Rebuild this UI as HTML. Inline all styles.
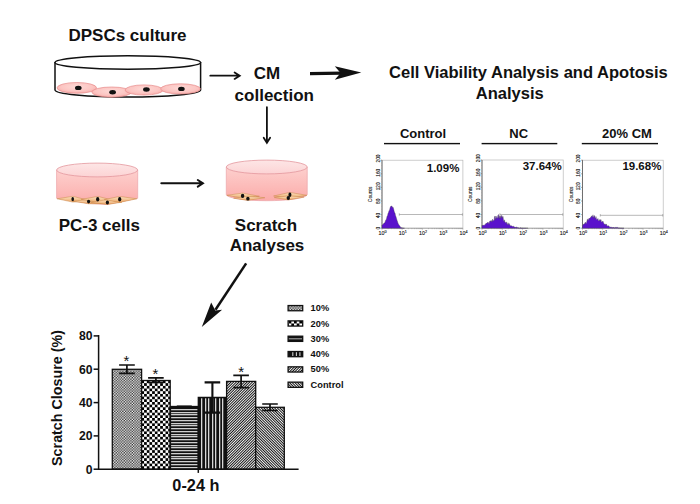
<!DOCTYPE html>
<html><head><meta charset="utf-8">
<style>
html,body{margin:0;padding:0;background:#fff;}
body{width:700px;height:504px;overflow:hidden;font-family:"Liberation Sans",sans-serif;}
svg{display:block;}
text{font-family:"Liberation Sans",sans-serif;font-weight:bold;fill:#111;}
</style></head><body>
<svg width="700" height="504" viewBox="0 0 700 504">
<defs>
<linearGradient id="med" x1="0" y1="0" x2="0" y2="1"><stop offset="0" stop-color="#fdd0ce"/><stop offset="0.55" stop-color="#fcbcba"/><stop offset="1" stop-color="#fbaba9"/></linearGradient>
<linearGradient id="medtop" x1="0" y1="0" x2="0" y2="1"><stop offset="0" stop-color="#fde6e6"/><stop offset="1" stop-color="#fcd3d4"/></linearGradient>
<radialGradient id="cell" cx="0.5" cy="0.4" r="0.62"><stop offset="0" stop-color="#fdd9d6"/><stop offset="0.65" stop-color="#fcc5c2"/><stop offset="1" stop-color="#f7a9a6"/></radialGradient>
<linearGradient id="pc" x1="0" y1="0" x2="0" y2="1"><stop offset="0" stop-color="#fde3c4"/><stop offset="1" stop-color="#eba767"/></linearGradient>
<pattern id="p10" width="2.68" height="2.68" patternUnits="userSpaceOnUse" x="114.18" y="371.75"><rect width="2.68" height="2.68" fill="#262626"/><rect width="1.4" height="1.4" fill="#fafafa"/><rect x="1.34" y="1.34" width="1.4" height="1.4" fill="#fafafa"/></pattern>
<pattern id="p20" width="5.36" height="5.36" patternUnits="userSpaceOnUse" x="144.1" y="388.54"><rect width="5.36" height="5.36" fill="#fff"/><rect width="2.68" height="2.68" fill="#000"/><rect x="2.68" y="2.68" width="2.68" height="2.68" fill="#000"/></pattern>
<pattern id="p30" width="4" height="2.74" patternUnits="userSpaceOnUse" y="408.6"><rect width="4" height="2.74" fill="#111"/><rect y="0" width="4" height="1.15" fill="#c4c4c4"/></pattern>
<pattern id="p40" width="3.54" height="4" patternUnits="userSpaceOnUse" x="201.3"><rect width="3.54" height="4" fill="#111"/><rect x="0" width="1.3" height="4" fill="#dcdcdc"/></pattern>
<pattern id="p50" width="1.895" height="1.895" patternUnits="userSpaceOnUse" patternTransform="rotate(-45)"><rect width="1.895" height="1.895" fill="#111"/><rect width="1.895" height="0.95" fill="#f4f4f4"/></pattern>
<pattern id="p60" width="1.895" height="1.895" patternUnits="userSpaceOnUse" patternTransform="rotate(45)"><rect width="1.895" height="1.895" fill="#111"/><rect width="1.895" height="0.95" fill="#f4f4f4"/></pattern>
<pattern id="p20L" width="5.36" height="5.36" patternUnits="userSpaceOnUse" x="288.66" y="320.8"><rect width="5.36" height="5.36" fill="#000"/><rect x="2.68" width="2.68" height="2.68" fill="#fff"/><rect y="2.68" width="2.68" height="2.68" fill="#fff"/></pattern>
</defs>
<rect width="700" height="504" fill="#fff"/>

<!-- ===== texts ===== -->
<text x="127.5" y="41.1" font-size="17" text-anchor="middle">DPSCs culture</text>
<text x="267" y="78.7" font-size="17" text-anchor="middle">CM</text>
<text x="274.3" y="100.7" font-size="17" text-anchor="middle">collection</text>
<text x="528.4" y="77.5" font-size="16.55" text-anchor="middle">Cell Viability Analysis and Apotosis</text>
<text x="509.8" y="98.5" font-size="16.55" text-anchor="middle">Analysis</text>
<text x="99.3" y="231" font-size="17" text-anchor="middle">PC-3 cells</text>
<text x="266" y="231" font-size="17" text-anchor="middle">Scratch</text>
<text x="267" y="251" font-size="17" text-anchor="middle">Analyses</text>

<!-- ===== DPSC dish ===== -->
<g id="dish1">
<path d="M55,62 L55,90 A72.8,7 0 0 0 200.6,90 L200.6,62" fill="#fff" stroke="#111" stroke-width="1.5"/>
<ellipse cx="76.8" cy="87.9" rx="19.8" ry="5.4" fill="url(#cell)" stroke="#e78d8d" stroke-width="0.7"/>
<ellipse cx="111.6" cy="92.1" rx="19.8" ry="5.1" fill="url(#cell)" stroke="#e78d8d" stroke-width="0.7"/>
<ellipse cx="144" cy="90" rx="19" ry="5.1" fill="url(#cell)" stroke="#e78d8d" stroke-width="0.7"/>
<ellipse cx="180.5" cy="88.9" rx="19.9" ry="5.1" fill="url(#cell)" stroke="#e78d8d" stroke-width="0.7"/>
<ellipse cx="78.3" cy="87.9" rx="3.3" ry="2.2" fill="#111"/>
<ellipse cx="112.6" cy="92.2" rx="3.3" ry="2.2" fill="#111"/>
<ellipse cx="146.4" cy="89.5" rx="3.3" ry="2.2" fill="#111"/>
<ellipse cx="181.4" cy="88.9" rx="3.3" ry="2.2" fill="#111"/>
<ellipse cx="127.8" cy="62.5" rx="72.8" ry="6.7" fill="#fff" stroke="#111" stroke-width="1.5"/>
</g>

<!-- ===== arrows ===== -->
<g stroke="#111" fill="none" stroke-width="1.8" stroke-linecap="round" stroke-linejoin="miter">
<path d="M210.3,75.7 H239.4 M234.6,72.5 L239.7,75.7 L234.6,78.9"/>
<path d="M266.9,107.2 V142.6 M263.7,137.8 L266.9,142.9 L270.1,137.8"/>
<path d="M161.3,183.3 H202.6 M197.8,180 L202.9,183.3 L197.8,186.6" stroke-width="2"/>
</g>
<g fill="#111" stroke="none">
<path d="M310,72.0 L342,71.5 L342,74.7 L310,75.2 Z"/>
<path d="M361.3,72.4 L334.8,66.2 L340.6,73.1 L334.8,79.8 Z"/>
<path d="M245.100,262.700 L247.200,264.100 L216.500,310.500 L214.400,309.100 Z"/>
<path d="M201.800,326.900 L211.200,302.500 L215.300,310.400 L222.100,309.800 Z"/>
</g>

<!-- ===== PC-3 dish ===== -->
<g id="dish2">
<path d="M56.6,170 L56.6,198.3 L89,203.4 L107,204.5 L137.7,198.3 L137.7,170 Z" fill="url(#med)" stroke="#eda9ad" stroke-width="0.8"/>
<path d="M57.2,198.4 L72.8,197 L82,199.2 L97.8,197 L108.5,199.4 L119.7,197 L137,198.4 L107,204.3 L89,203.2 Z" fill="#f3c08c"/>
<path d="M57.1,198.8 L72.8,196.29999999999998 L90.7,200.8 L72.8,202.1 Z" fill="url(#pc)" stroke="#c5803f" stroke-width="0.45"/>
<path d="M73,201.2 L88.7,199.4 L107,203.6 L88.7,203.79999999999998 Z" fill="url(#pc)" stroke="#c5803f" stroke-width="0.45"/>
<path d="M81.2,199.4 L97.8,196.4 L113.8,200.4 L97.8,202.4 Z" fill="url(#pc)" stroke="#c5803f" stroke-width="0.45"/>
<path d="M90.7,202.3 L107.5,199.6 L122,202.2 L107.5,204.4 Z" fill="url(#pc)" stroke="#c5803f" stroke-width="0.45"/>
<path d="M104.3,199.6 L119.7,196.4 L136.8,198.8 L119.7,202.4 Z" fill="url(#pc)" stroke="#c5803f" stroke-width="0.45"/>
<ellipse cx="72.7" cy="199.1" rx="1.3" ry="2.2" fill="#111"/>
<ellipse cx="88.6" cy="201.6" rx="1.6" ry="1.8" fill="#111"/>
<ellipse cx="97.7" cy="199.3" rx="1.6" ry="2.3" fill="#111"/>
<ellipse cx="107.4" cy="202.5" rx="1.6" ry="1.9" fill="#111"/>
<ellipse cx="119.7" cy="199.3" rx="1.6" ry="2.3" fill="#111"/>
<ellipse cx="97.15" cy="170" rx="40.5" ry="6.9" fill="url(#medtop)" stroke="#e3979d" stroke-width="0.8"/>
</g>

<!-- ===== Scratch dish ===== -->
<g id="dish3">
<path d="M226.3,167 L226.3,194.5 A40.45,6.2 0 0 0 307.2,194.5 L307.2,167 Z" fill="url(#med)" stroke="#eda9ad" stroke-width="0.8"/>
<path d="M226.8,195.3 L242.7,193.1 L259.4,196.3 L242.7,198.1 Z" fill="url(#pc)" stroke="#c5803f" stroke-width="0.45"/>
<path d="M233.6,198.2 L247.8,196.4 L264.8,197.7 L247.8,200.4 Z" fill="url(#pc)" stroke="#c5803f" stroke-width="0.45"/>
<path d="M273.6,196 L289.9,192.39999999999998 L306.8,195.3 L289.9,198.0 Z" fill="url(#pc)" stroke="#c5803f" stroke-width="0.45"/>
<path d="M274.3,197.6 L288.3,195.9 L304.1,197 L288.3,199.9 Z" fill="url(#pc)" stroke="#c5803f" stroke-width="0.45"/>
<ellipse cx="242.6" cy="195.9" rx="1.7" ry="2.1" fill="#111"/>
<ellipse cx="247.9" cy="198.7" rx="1.7" ry="1.9" fill="#111"/>
<ellipse cx="289.9" cy="194.7" rx="1.5" ry="2.2" fill="#111"/>
<ellipse cx="288.3" cy="198.0" rx="1.7" ry="2" fill="#111"/>
<ellipse cx="266.75" cy="167" rx="40.45" ry="6.9" fill="url(#medtop)" stroke="#e3979d" stroke-width="0.8"/>
</g>

<!-- ===== flow plots ===== -->
<g id="flow">
<text x="423" y="138.2" font-size="13" text-anchor="middle">Control</text>
<rect x="384" y="142.9" width="76" height="1.4" fill="#111"/>
<rect x="382.0" y="160.2" width="80.89999999999998" height="68.0" fill="#fff" stroke="#b8b8b8" stroke-width="0.7"/>
<path d="M382.0,228.2 H462.9" fill="none" stroke="#999" stroke-width="0.7"/>
<path d="M382.0,160.2 V228.2" fill="none" stroke="#555" stroke-width="0.8"/>
<path d="M380.5,228.2 H382.0" stroke="#666" stroke-width="0.5"/>
<path d="M380.5,214.6 H382.0" stroke="#666" stroke-width="0.5"/>
<path d="M380.5,201.0 H382.0" stroke="#666" stroke-width="0.5"/>
<path d="M380.5,187.4 H382.0" stroke="#666" stroke-width="0.5"/>
<path d="M380.5,173.8 H382.0" stroke="#666" stroke-width="0.5"/>
<path d="M380.5,160.2 H382.0" stroke="#666" stroke-width="0.5"/>
<path d="M381.2,228.2 H382.0" stroke="#888" stroke-width="0.3"/>
<path d="M381.2,225.5 H382.0" stroke="#888" stroke-width="0.3"/>
<path d="M381.2,222.8 H382.0" stroke="#888" stroke-width="0.3"/>
<path d="M381.2,220.0 H382.0" stroke="#888" stroke-width="0.3"/>
<path d="M381.2,217.3 H382.0" stroke="#888" stroke-width="0.3"/>
<path d="M381.2,214.6 H382.0" stroke="#888" stroke-width="0.3"/>
<path d="M381.2,211.9 H382.0" stroke="#888" stroke-width="0.3"/>
<path d="M381.2,209.2 H382.0" stroke="#888" stroke-width="0.3"/>
<path d="M381.2,206.4 H382.0" stroke="#888" stroke-width="0.3"/>
<path d="M381.2,203.7 H382.0" stroke="#888" stroke-width="0.3"/>
<path d="M381.2,201.0 H382.0" stroke="#888" stroke-width="0.3"/>
<path d="M381.2,198.3 H382.0" stroke="#888" stroke-width="0.3"/>
<path d="M381.2,195.6 H382.0" stroke="#888" stroke-width="0.3"/>
<path d="M381.2,192.8 H382.0" stroke="#888" stroke-width="0.3"/>
<path d="M381.2,190.1 H382.0" stroke="#888" stroke-width="0.3"/>
<path d="M381.2,187.4 H382.0" stroke="#888" stroke-width="0.3"/>
<path d="M381.2,184.7 H382.0" stroke="#888" stroke-width="0.3"/>
<path d="M381.2,182.0 H382.0" stroke="#888" stroke-width="0.3"/>
<path d="M381.2,179.2 H382.0" stroke="#888" stroke-width="0.3"/>
<path d="M381.2,176.5 H382.0" stroke="#888" stroke-width="0.3"/>
<path d="M381.2,173.8 H382.0" stroke="#888" stroke-width="0.3"/>
<path d="M381.2,171.1 H382.0" stroke="#888" stroke-width="0.3"/>
<path d="M381.2,168.4 H382.0" stroke="#888" stroke-width="0.3"/>
<path d="M381.2,165.6 H382.0" stroke="#888" stroke-width="0.3"/>
<path d="M381.2,162.9 H382.0" stroke="#888" stroke-width="0.3"/>
<path d="M381.2,160.2 H382.0" stroke="#888" stroke-width="0.3"/>
<path d="M382.0,228.2 v2" stroke="#777" stroke-width="0.35"/>
<path d="M388.1,228.2 v1" stroke="#777" stroke-width="0.35"/>
<path d="M391.6,228.2 v1" stroke="#777" stroke-width="0.35"/>
<path d="M394.2,228.2 v1" stroke="#777" stroke-width="0.35"/>
<path d="M396.1,228.2 v1" stroke="#777" stroke-width="0.35"/>
<path d="M397.7,228.2 v1" stroke="#777" stroke-width="0.35"/>
<path d="M399.1,228.2 v1" stroke="#777" stroke-width="0.35"/>
<path d="M400.3,228.2 v1" stroke="#777" stroke-width="0.35"/>
<path d="M401.3,228.2 v1" stroke="#777" stroke-width="0.35"/>
<path d="M402.2,228.2 v2" stroke="#777" stroke-width="0.35"/>
<path d="M408.3,228.2 v1" stroke="#777" stroke-width="0.35"/>
<path d="M411.9,228.2 v1" stroke="#777" stroke-width="0.35"/>
<path d="M414.4,228.2 v1" stroke="#777" stroke-width="0.35"/>
<path d="M416.4,228.2 v1" stroke="#777" stroke-width="0.35"/>
<path d="M418.0,228.2 v1" stroke="#777" stroke-width="0.35"/>
<path d="M419.3,228.2 v1" stroke="#777" stroke-width="0.35"/>
<path d="M420.5,228.2 v1" stroke="#777" stroke-width="0.35"/>
<path d="M421.5,228.2 v1" stroke="#777" stroke-width="0.35"/>
<path d="M422.4,228.2 v2" stroke="#777" stroke-width="0.35"/>
<path d="M428.5,228.2 v1" stroke="#777" stroke-width="0.35"/>
<path d="M432.1,228.2 v1" stroke="#777" stroke-width="0.35"/>
<path d="M434.6,228.2 v1" stroke="#777" stroke-width="0.35"/>
<path d="M436.6,228.2 v1" stroke="#777" stroke-width="0.35"/>
<path d="M438.2,228.2 v1" stroke="#777" stroke-width="0.35"/>
<path d="M439.5,228.2 v1" stroke="#777" stroke-width="0.35"/>
<path d="M440.7,228.2 v1" stroke="#777" stroke-width="0.35"/>
<path d="M441.7,228.2 v1" stroke="#777" stroke-width="0.35"/>
<path d="M442.7,228.2 v2" stroke="#777" stroke-width="0.35"/>
<path d="M448.8,228.2 v1" stroke="#777" stroke-width="0.35"/>
<path d="M452.3,228.2 v1" stroke="#777" stroke-width="0.35"/>
<path d="M454.9,228.2 v1" stroke="#777" stroke-width="0.35"/>
<path d="M456.8,228.2 v1" stroke="#777" stroke-width="0.35"/>
<path d="M458.4,228.2 v1" stroke="#777" stroke-width="0.35"/>
<path d="M459.8,228.2 v1" stroke="#777" stroke-width="0.35"/>
<path d="M460.9,228.2 v1" stroke="#777" stroke-width="0.35"/>
<path d="M462.0,228.2 v1" stroke="#777" stroke-width="0.35"/>
<path d="M462.9,228.2 v2" stroke="#777" stroke-width="0.35"/>
<polygon points="382.0,228.2 382.0,225.3 382.5,224.7 383.0,224.4 383.5,223.7 384.0,223.1 384.5,223.0 385.0,222.3 385.5,220.4 386.0,220.0 386.5,218.8 387.0,216.4 387.5,215.7 388.0,213.5 388.5,212.5 389.0,210.7 389.5,210.2 390.0,208.1 390.5,206.6 391.0,206.6 391.5,205.9 392.0,206.1 392.5,207.7 393.0,207.1 393.5,208.6 394.0,210.6 394.5,212.6 395.0,212.9 395.5,215.4 396.0,216.8 396.5,218.4 397.0,220.2 397.5,221.5 398.0,223.3 398.5,224.0 399.0,225.2 399.5,225.6 400.0,226.3 400.5,227.2 401.0,227.5 401.5,227.7 402.0,227.7 402.5,227.9 403.0,228.0 403.5,228.1 404.0,228.1 404.5,228.2 404.5,228.2" fill="#5a12cc" stroke="#444" stroke-width="0.35"/>
<path d="M399.3,214.5 H462.4 M399.3,213.3 v2.4 M462.4,213.3 v2.4" stroke="#888" stroke-width="0.6" fill="none"/>
<text x="459.4" y="171.6" font-size="11.5" text-anchor="end">1.09%</text>
<text x="382.6" y="234.6" font-size="5.3" text-anchor="middle" fill="#1a1a1a" stroke="#1a1a1a" stroke-width="0.12" style="font-weight:normal">10<tspan dy="-2.0" font-size="3.7">0</tspan></text>
<text x="402.8" y="234.6" font-size="5.3" text-anchor="middle" fill="#1a1a1a" stroke="#1a1a1a" stroke-width="0.12" style="font-weight:normal">10<tspan dy="-2.0" font-size="3.7">1</tspan></text>
<text x="423.1" y="234.6" font-size="5.3" text-anchor="middle" fill="#1a1a1a" stroke="#1a1a1a" stroke-width="0.12" style="font-weight:normal">10<tspan dy="-2.0" font-size="3.7">2</tspan></text>
<text x="443.3" y="234.6" font-size="5.3" text-anchor="middle" fill="#1a1a1a" stroke="#1a1a1a" stroke-width="0.12" style="font-weight:normal">10<tspan dy="-2.0" font-size="3.7">3</tspan></text>
<text x="463.5" y="234.6" font-size="5.3" text-anchor="middle" fill="#1a1a1a" stroke="#1a1a1a" stroke-width="0.12" style="font-weight:normal">10<tspan dy="-2.0" font-size="3.7">4</tspan></text>
<text transform="translate(379.9,228.2) rotate(-90)" font-size="4.7" text-anchor="middle" fill="#1a1a1a" stroke="#1a1a1a" stroke-width="0.12" style="font-weight:normal">0</text>
<text transform="translate(379.9,215.5) rotate(-90)" font-size="4.7" text-anchor="middle" fill="#1a1a1a" stroke="#1a1a1a" stroke-width="0.12" style="font-weight:normal">40</text>
<text transform="translate(379.9,201.3) rotate(-90)" font-size="4.7" text-anchor="middle" fill="#1a1a1a" stroke="#1a1a1a" stroke-width="0.12" style="font-weight:normal">80</text>
<text transform="translate(379.9,186.4) rotate(-90)" font-size="4.7" text-anchor="middle" fill="#1a1a1a" stroke="#1a1a1a" stroke-width="0.12" style="font-weight:normal">120</text>
<text transform="translate(379.9,172.8) rotate(-90)" font-size="4.7" text-anchor="middle" fill="#1a1a1a" stroke="#1a1a1a" stroke-width="0.12" style="font-weight:normal">160</text>
<text transform="translate(379.9,158.5) rotate(-90)" font-size="4.7" text-anchor="middle" fill="#1a1a1a" stroke="#1a1a1a" stroke-width="0.12" style="font-weight:normal">200</text>
<text transform="translate(372.2,194.4) rotate(-90)" font-size="4.9" text-anchor="middle" fill="#1a1a1a" stroke="#1a1a1a" stroke-width="0.12" style="font-weight:normal">Counts</text>
<text x="518.7" y="138.2" font-size="13" text-anchor="middle">NC</text>
<rect x="481.6" y="142.9" width="75.69999999999993" height="1.4" fill="#111"/>
<rect x="482.0" y="160.0" width="81.20000000000005" height="68.19999999999999" fill="#fff" stroke="#b8b8b8" stroke-width="0.7"/>
<path d="M482.0,228.2 H563.2" fill="none" stroke="#999" stroke-width="0.7"/>
<path d="M482.0,160.0 V228.2" fill="none" stroke="#555" stroke-width="0.8"/>
<path d="M480.5,228.2 H482.0" stroke="#666" stroke-width="0.5"/>
<path d="M480.5,214.6 H482.0" stroke="#666" stroke-width="0.5"/>
<path d="M480.5,200.9 H482.0" stroke="#666" stroke-width="0.5"/>
<path d="M480.5,187.3 H482.0" stroke="#666" stroke-width="0.5"/>
<path d="M480.5,173.6 H482.0" stroke="#666" stroke-width="0.5"/>
<path d="M480.5,160.0 H482.0" stroke="#666" stroke-width="0.5"/>
<path d="M481.2,228.2 H482.0" stroke="#888" stroke-width="0.3"/>
<path d="M481.2,225.5 H482.0" stroke="#888" stroke-width="0.3"/>
<path d="M481.2,222.7 H482.0" stroke="#888" stroke-width="0.3"/>
<path d="M481.2,220.0 H482.0" stroke="#888" stroke-width="0.3"/>
<path d="M481.2,217.3 H482.0" stroke="#888" stroke-width="0.3"/>
<path d="M481.2,214.6 H482.0" stroke="#888" stroke-width="0.3"/>
<path d="M481.2,211.8 H482.0" stroke="#888" stroke-width="0.3"/>
<path d="M481.2,209.1 H482.0" stroke="#888" stroke-width="0.3"/>
<path d="M481.2,206.4 H482.0" stroke="#888" stroke-width="0.3"/>
<path d="M481.2,203.6 H482.0" stroke="#888" stroke-width="0.3"/>
<path d="M481.2,200.9 H482.0" stroke="#888" stroke-width="0.3"/>
<path d="M481.2,198.2 H482.0" stroke="#888" stroke-width="0.3"/>
<path d="M481.2,195.5 H482.0" stroke="#888" stroke-width="0.3"/>
<path d="M481.2,192.7 H482.0" stroke="#888" stroke-width="0.3"/>
<path d="M481.2,190.0 H482.0" stroke="#888" stroke-width="0.3"/>
<path d="M481.2,187.3 H482.0" stroke="#888" stroke-width="0.3"/>
<path d="M481.2,184.6 H482.0" stroke="#888" stroke-width="0.3"/>
<path d="M481.2,181.8 H482.0" stroke="#888" stroke-width="0.3"/>
<path d="M481.2,179.1 H482.0" stroke="#888" stroke-width="0.3"/>
<path d="M481.2,176.4 H482.0" stroke="#888" stroke-width="0.3"/>
<path d="M481.2,173.6 H482.0" stroke="#888" stroke-width="0.3"/>
<path d="M481.2,170.9 H482.0" stroke="#888" stroke-width="0.3"/>
<path d="M481.2,168.2 H482.0" stroke="#888" stroke-width="0.3"/>
<path d="M481.2,165.5 H482.0" stroke="#888" stroke-width="0.3"/>
<path d="M481.2,162.7 H482.0" stroke="#888" stroke-width="0.3"/>
<path d="M481.2,160.0 H482.0" stroke="#888" stroke-width="0.3"/>
<path d="M482.0,228.2 v2" stroke="#777" stroke-width="0.35"/>
<path d="M488.1,228.2 v1" stroke="#777" stroke-width="0.35"/>
<path d="M491.7,228.2 v1" stroke="#777" stroke-width="0.35"/>
<path d="M494.2,228.2 v1" stroke="#777" stroke-width="0.35"/>
<path d="M496.2,228.2 v1" stroke="#777" stroke-width="0.35"/>
<path d="M497.8,228.2 v1" stroke="#777" stroke-width="0.35"/>
<path d="M499.2,228.2 v1" stroke="#777" stroke-width="0.35"/>
<path d="M500.3,228.2 v1" stroke="#777" stroke-width="0.35"/>
<path d="M501.4,228.2 v1" stroke="#777" stroke-width="0.35"/>
<path d="M502.3,228.2 v2" stroke="#777" stroke-width="0.35"/>
<path d="M508.4,228.2 v1" stroke="#777" stroke-width="0.35"/>
<path d="M512.0,228.2 v1" stroke="#777" stroke-width="0.35"/>
<path d="M514.5,228.2 v1" stroke="#777" stroke-width="0.35"/>
<path d="M516.5,228.2 v1" stroke="#777" stroke-width="0.35"/>
<path d="M518.1,228.2 v1" stroke="#777" stroke-width="0.35"/>
<path d="M519.5,228.2 v1" stroke="#777" stroke-width="0.35"/>
<path d="M520.6,228.2 v1" stroke="#777" stroke-width="0.35"/>
<path d="M521.7,228.2 v1" stroke="#777" stroke-width="0.35"/>
<path d="M522.6,228.2 v2" stroke="#777" stroke-width="0.35"/>
<path d="M528.7,228.2 v1" stroke="#777" stroke-width="0.35"/>
<path d="M532.3,228.2 v1" stroke="#777" stroke-width="0.35"/>
<path d="M534.8,228.2 v1" stroke="#777" stroke-width="0.35"/>
<path d="M536.8,228.2 v1" stroke="#777" stroke-width="0.35"/>
<path d="M538.4,228.2 v1" stroke="#777" stroke-width="0.35"/>
<path d="M539.8,228.2 v1" stroke="#777" stroke-width="0.35"/>
<path d="M540.9,228.2 v1" stroke="#777" stroke-width="0.35"/>
<path d="M542.0,228.2 v1" stroke="#777" stroke-width="0.35"/>
<path d="M542.9,228.2 v2" stroke="#777" stroke-width="0.35"/>
<path d="M549.0,228.2 v1" stroke="#777" stroke-width="0.35"/>
<path d="M552.6,228.2 v1" stroke="#777" stroke-width="0.35"/>
<path d="M555.1,228.2 v1" stroke="#777" stroke-width="0.35"/>
<path d="M557.1,228.2 v1" stroke="#777" stroke-width="0.35"/>
<path d="M558.7,228.2 v1" stroke="#777" stroke-width="0.35"/>
<path d="M560.1,228.2 v1" stroke="#777" stroke-width="0.35"/>
<path d="M561.2,228.2 v1" stroke="#777" stroke-width="0.35"/>
<path d="M562.3,228.2 v1" stroke="#777" stroke-width="0.35"/>
<path d="M563.2,228.2 v2" stroke="#777" stroke-width="0.35"/>
<polygon points="482.0,228.2 482.0,225.7 482.5,225.1 483.0,225.7 483.5,225.1 484.0,225.2 484.5,225.2 485.0,224.4 485.5,224.3 486.0,223.2 486.5,223.6 487.0,222.7 487.5,222.7 488.0,222.1 488.5,222.8 489.0,224.1 489.5,221.6 490.0,220.9 490.5,220.7 491.0,221.5 491.5,220.5 492.0,222.0 492.5,219.2 493.0,219.7 493.5,220.4 494.0,220.9 494.5,217.1 495.0,216.0 495.5,219.7 496.0,216.0 496.5,217.5 497.0,218.5 497.5,217.6 498.0,215.1 498.5,214.5 499.0,218.6 499.5,215.8 500.0,218.7 500.5,215.7 501.0,217.8 501.5,215.6 502.0,215.5 502.5,218.1 503.0,216.4 503.5,219.9 504.0,221.4 504.5,219.8 505.0,222.6 505.5,222.4 506.0,222.2 506.5,222.0 507.0,224.0 507.5,224.8 508.0,222.7 508.5,224.7 509.0,223.4 509.5,224.0 510.0,225.6 510.5,225.7 511.0,225.8 511.5,225.8 512.0,226.1 512.5,226.4 513.0,226.4 513.5,226.1 514.0,226.9 514.5,227.2 515.0,226.8 515.5,227.6 516.0,227.6 516.5,226.8 517.0,227.5 517.5,227.5 518.0,228.2 518.5,227.8 519.0,227.7 519.5,228.2 520.0,227.7 520.5,227.8 521.0,227.9 521.5,228.0 522.0,228.0 522.5,228.0 523.0,228.0 523.5,228.1 524.0,228.1 524.5,228.1 525.0,228.1 525.5,228.1 526.0,228.1 526.5,228.2 527.0,228.2 527.5,228.2 528.0,228.2 528.0,228.2" fill="#5a12cc" stroke="#444" stroke-width="0.35"/>
<path d="M499.9,214.5 H562.7 M499.9,213.3 v2.4 M562.7,213.3 v2.4" stroke="#888" stroke-width="0.6" fill="none"/>
<text x="561.7" y="170.4" font-size="11.5" text-anchor="end">37.64%</text>
<text x="482.6" y="234.6" font-size="5.3" text-anchor="middle" fill="#1a1a1a" stroke="#1a1a1a" stroke-width="0.12" style="font-weight:normal">10<tspan dy="-2.0" font-size="3.7">0</tspan></text>
<text x="502.9" y="234.6" font-size="5.3" text-anchor="middle" fill="#1a1a1a" stroke="#1a1a1a" stroke-width="0.12" style="font-weight:normal">10<tspan dy="-2.0" font-size="3.7">1</tspan></text>
<text x="523.2" y="234.6" font-size="5.3" text-anchor="middle" fill="#1a1a1a" stroke="#1a1a1a" stroke-width="0.12" style="font-weight:normal">10<tspan dy="-2.0" font-size="3.7">2</tspan></text>
<text x="543.5" y="234.6" font-size="5.3" text-anchor="middle" fill="#1a1a1a" stroke="#1a1a1a" stroke-width="0.12" style="font-weight:normal">10<tspan dy="-2.0" font-size="3.7">3</tspan></text>
<text x="563.8" y="234.6" font-size="5.3" text-anchor="middle" fill="#1a1a1a" stroke="#1a1a1a" stroke-width="0.12" style="font-weight:normal">10<tspan dy="-2.0" font-size="3.7">4</tspan></text>
<text transform="translate(479.9,228.2) rotate(-90)" font-size="4.7" text-anchor="middle" fill="#1a1a1a" stroke="#1a1a1a" stroke-width="0.12" style="font-weight:normal">0</text>
<text transform="translate(479.9,215.5) rotate(-90)" font-size="4.7" text-anchor="middle" fill="#1a1a1a" stroke="#1a1a1a" stroke-width="0.12" style="font-weight:normal">40</text>
<text transform="translate(479.9,201.2) rotate(-90)" font-size="4.7" text-anchor="middle" fill="#1a1a1a" stroke="#1a1a1a" stroke-width="0.12" style="font-weight:normal">80</text>
<text transform="translate(479.9,186.3) rotate(-90)" font-size="4.7" text-anchor="middle" fill="#1a1a1a" stroke="#1a1a1a" stroke-width="0.12" style="font-weight:normal">120</text>
<text transform="translate(479.9,172.6) rotate(-90)" font-size="4.7" text-anchor="middle" fill="#1a1a1a" stroke="#1a1a1a" stroke-width="0.12" style="font-weight:normal">160</text>
<text transform="translate(479.9,158.3) rotate(-90)" font-size="4.7" text-anchor="middle" fill="#1a1a1a" stroke="#1a1a1a" stroke-width="0.12" style="font-weight:normal">200</text>
<text transform="translate(472.2,194.3) rotate(-90)" font-size="4.9" text-anchor="middle" fill="#1a1a1a" stroke="#1a1a1a" stroke-width="0.12" style="font-weight:normal">Counts</text>
<text x="627" y="138.2" font-size="13" text-anchor="middle">20% CM</text>
<rect x="581.8" y="142.9" width="76.20000000000005" height="1.4" fill="#111"/>
<rect x="582.5" y="160.2" width="80.70000000000005" height="68.0" fill="#fff" stroke="#b8b8b8" stroke-width="0.7"/>
<path d="M582.5,228.2 H663.2" fill="none" stroke="#999" stroke-width="0.7"/>
<path d="M582.5,160.2 V228.2" fill="none" stroke="#555" stroke-width="0.8"/>
<path d="M581.0,228.2 H582.5" stroke="#666" stroke-width="0.5"/>
<path d="M581.0,214.6 H582.5" stroke="#666" stroke-width="0.5"/>
<path d="M581.0,201.0 H582.5" stroke="#666" stroke-width="0.5"/>
<path d="M581.0,187.4 H582.5" stroke="#666" stroke-width="0.5"/>
<path d="M581.0,173.8 H582.5" stroke="#666" stroke-width="0.5"/>
<path d="M581.0,160.2 H582.5" stroke="#666" stroke-width="0.5"/>
<path d="M581.7,228.2 H582.5" stroke="#888" stroke-width="0.3"/>
<path d="M581.7,225.5 H582.5" stroke="#888" stroke-width="0.3"/>
<path d="M581.7,222.8 H582.5" stroke="#888" stroke-width="0.3"/>
<path d="M581.7,220.0 H582.5" stroke="#888" stroke-width="0.3"/>
<path d="M581.7,217.3 H582.5" stroke="#888" stroke-width="0.3"/>
<path d="M581.7,214.6 H582.5" stroke="#888" stroke-width="0.3"/>
<path d="M581.7,211.9 H582.5" stroke="#888" stroke-width="0.3"/>
<path d="M581.7,209.2 H582.5" stroke="#888" stroke-width="0.3"/>
<path d="M581.7,206.4 H582.5" stroke="#888" stroke-width="0.3"/>
<path d="M581.7,203.7 H582.5" stroke="#888" stroke-width="0.3"/>
<path d="M581.7,201.0 H582.5" stroke="#888" stroke-width="0.3"/>
<path d="M581.7,198.3 H582.5" stroke="#888" stroke-width="0.3"/>
<path d="M581.7,195.6 H582.5" stroke="#888" stroke-width="0.3"/>
<path d="M581.7,192.8 H582.5" stroke="#888" stroke-width="0.3"/>
<path d="M581.7,190.1 H582.5" stroke="#888" stroke-width="0.3"/>
<path d="M581.7,187.4 H582.5" stroke="#888" stroke-width="0.3"/>
<path d="M581.7,184.7 H582.5" stroke="#888" stroke-width="0.3"/>
<path d="M581.7,182.0 H582.5" stroke="#888" stroke-width="0.3"/>
<path d="M581.7,179.2 H582.5" stroke="#888" stroke-width="0.3"/>
<path d="M581.7,176.5 H582.5" stroke="#888" stroke-width="0.3"/>
<path d="M581.7,173.8 H582.5" stroke="#888" stroke-width="0.3"/>
<path d="M581.7,171.1 H582.5" stroke="#888" stroke-width="0.3"/>
<path d="M581.7,168.4 H582.5" stroke="#888" stroke-width="0.3"/>
<path d="M581.7,165.6 H582.5" stroke="#888" stroke-width="0.3"/>
<path d="M581.7,162.9 H582.5" stroke="#888" stroke-width="0.3"/>
<path d="M581.7,160.2 H582.5" stroke="#888" stroke-width="0.3"/>
<path d="M582.5,228.2 v2" stroke="#777" stroke-width="0.35"/>
<path d="M588.6,228.2 v1" stroke="#777" stroke-width="0.35"/>
<path d="M592.1,228.2 v1" stroke="#777" stroke-width="0.35"/>
<path d="M594.6,228.2 v1" stroke="#777" stroke-width="0.35"/>
<path d="M596.6,228.2 v1" stroke="#777" stroke-width="0.35"/>
<path d="M598.2,228.2 v1" stroke="#777" stroke-width="0.35"/>
<path d="M599.5,228.2 v1" stroke="#777" stroke-width="0.35"/>
<path d="M600.7,228.2 v1" stroke="#777" stroke-width="0.35"/>
<path d="M601.8,228.2 v1" stroke="#777" stroke-width="0.35"/>
<path d="M602.7,228.2 v2" stroke="#777" stroke-width="0.35"/>
<path d="M608.7,228.2 v1" stroke="#777" stroke-width="0.35"/>
<path d="M612.3,228.2 v1" stroke="#777" stroke-width="0.35"/>
<path d="M614.8,228.2 v1" stroke="#777" stroke-width="0.35"/>
<path d="M616.8,228.2 v1" stroke="#777" stroke-width="0.35"/>
<path d="M618.4,228.2 v1" stroke="#777" stroke-width="0.35"/>
<path d="M619.7,228.2 v1" stroke="#777" stroke-width="0.35"/>
<path d="M620.9,228.2 v1" stroke="#777" stroke-width="0.35"/>
<path d="M621.9,228.2 v1" stroke="#777" stroke-width="0.35"/>
<path d="M622.9,228.2 v2" stroke="#777" stroke-width="0.35"/>
<path d="M628.9,228.2 v1" stroke="#777" stroke-width="0.35"/>
<path d="M632.5,228.2 v1" stroke="#777" stroke-width="0.35"/>
<path d="M635.0,228.2 v1" stroke="#777" stroke-width="0.35"/>
<path d="M637.0,228.2 v1" stroke="#777" stroke-width="0.35"/>
<path d="M638.5,228.2 v1" stroke="#777" stroke-width="0.35"/>
<path d="M639.9,228.2 v1" stroke="#777" stroke-width="0.35"/>
<path d="M641.1,228.2 v1" stroke="#777" stroke-width="0.35"/>
<path d="M642.1,228.2 v1" stroke="#777" stroke-width="0.35"/>
<path d="M643.0,228.2 v2" stroke="#777" stroke-width="0.35"/>
<path d="M649.1,228.2 v1" stroke="#777" stroke-width="0.35"/>
<path d="M652.7,228.2 v1" stroke="#777" stroke-width="0.35"/>
<path d="M655.2,228.2 v1" stroke="#777" stroke-width="0.35"/>
<path d="M657.1,228.2 v1" stroke="#777" stroke-width="0.35"/>
<path d="M658.7,228.2 v1" stroke="#777" stroke-width="0.35"/>
<path d="M660.1,228.2 v1" stroke="#777" stroke-width="0.35"/>
<path d="M661.2,228.2 v1" stroke="#777" stroke-width="0.35"/>
<path d="M662.3,228.2 v1" stroke="#777" stroke-width="0.35"/>
<path d="M663.2,228.2 v2" stroke="#777" stroke-width="0.35"/>
<polygon points="582.5,228.2 582.5,226.2 583.0,224.6 583.5,224.6 584.0,223.7 584.5,224.1 585.0,222.7 585.5,222.1 586.0,223.7 586.5,223.1 587.0,220.5 587.5,218.9 588.0,220.7 588.5,219.3 589.0,218.2 589.5,218.6 590.0,217.9 590.5,217.6 591.0,217.0 591.5,215.8 592.0,216.8 592.5,216.4 593.0,214.8 593.5,218.1 594.0,216.0 594.5,215.6 595.0,217.8 595.5,218.5 596.0,216.5 596.5,219.2 597.0,219.7 597.5,219.1 598.0,218.5 598.5,220.9 599.0,220.4 599.5,220.6 600.0,219.2 600.5,220.8 601.0,219.7 601.5,222.3 602.0,222.0 602.5,221.4 603.0,221.1 603.5,222.8 604.0,223.8 604.5,224.5 605.0,223.8 605.5,225.0 606.0,224.0 606.5,224.3 607.0,226.1 607.5,226.2 608.0,225.5 608.5,226.0 609.0,226.0 609.5,226.9 610.0,227.4 610.5,227.3 611.0,226.8 611.5,227.5 612.0,227.5 612.5,227.5 613.0,227.5 613.5,227.6 614.0,227.1 614.5,227.9 615.0,228.1 615.5,227.3 616.0,227.4 616.5,227.3 617.0,227.8 617.5,227.4 618.0,227.5 618.5,228.1 619.0,227.7 619.5,227.9 620.0,228.0 620.5,228.0 621.0,228.0 621.5,228.0 622.0,228.1 622.5,228.1 623.0,228.1 623.5,228.1 624.0,228.1 624.0,228.2" fill="#5a12cc" stroke="#444" stroke-width="0.35"/>
<path d="M600.3,215.3 H662.7 M600.3,214.10000000000002 v2.4 M662.7,214.10000000000002 v2.4" stroke="#888" stroke-width="0.6" fill="none"/>
<text x="661.4" y="169.9" font-size="11.5" text-anchor="end">19.68%</text>
<text x="583.1" y="234.6" font-size="5.3" text-anchor="middle" fill="#1a1a1a" stroke="#1a1a1a" stroke-width="0.12" style="font-weight:normal">10<tspan dy="-2.0" font-size="3.7">0</tspan></text>
<text x="603.3" y="234.6" font-size="5.3" text-anchor="middle" fill="#1a1a1a" stroke="#1a1a1a" stroke-width="0.12" style="font-weight:normal">10<tspan dy="-2.0" font-size="3.7">1</tspan></text>
<text x="623.5" y="234.6" font-size="5.3" text-anchor="middle" fill="#1a1a1a" stroke="#1a1a1a" stroke-width="0.12" style="font-weight:normal">10<tspan dy="-2.0" font-size="3.7">2</tspan></text>
<text x="643.6" y="234.6" font-size="5.3" text-anchor="middle" fill="#1a1a1a" stroke="#1a1a1a" stroke-width="0.12" style="font-weight:normal">10<tspan dy="-2.0" font-size="3.7">3</tspan></text>
<text x="663.8" y="234.6" font-size="5.3" text-anchor="middle" fill="#1a1a1a" stroke="#1a1a1a" stroke-width="0.12" style="font-weight:normal">10<tspan dy="-2.0" font-size="3.7">4</tspan></text>
<text transform="translate(580.4,228.2) rotate(-90)" font-size="4.7" text-anchor="middle" fill="#1a1a1a" stroke="#1a1a1a" stroke-width="0.12" style="font-weight:normal">0</text>
<text transform="translate(580.4,215.5) rotate(-90)" font-size="4.7" text-anchor="middle" fill="#1a1a1a" stroke="#1a1a1a" stroke-width="0.12" style="font-weight:normal">40</text>
<text transform="translate(580.4,201.3) rotate(-90)" font-size="4.7" text-anchor="middle" fill="#1a1a1a" stroke="#1a1a1a" stroke-width="0.12" style="font-weight:normal">80</text>
<text transform="translate(580.4,186.4) rotate(-90)" font-size="4.7" text-anchor="middle" fill="#1a1a1a" stroke="#1a1a1a" stroke-width="0.12" style="font-weight:normal">120</text>
<text transform="translate(580.4,172.8) rotate(-90)" font-size="4.7" text-anchor="middle" fill="#1a1a1a" stroke="#1a1a1a" stroke-width="0.12" style="font-weight:normal">160</text>
<text transform="translate(580.4,158.5) rotate(-90)" font-size="4.7" text-anchor="middle" fill="#1a1a1a" stroke="#1a1a1a" stroke-width="0.12" style="font-weight:normal">200</text>
<text transform="translate(572.7,194.4) rotate(-90)" font-size="4.9" text-anchor="middle" fill="#1a1a1a" stroke="#1a1a1a" stroke-width="0.12" style="font-weight:normal">Counts</text>
</g>

<!-- ===== bar chart ===== -->
<g id="bars">
<rect x="112.3" y="369.3" width="29.3" height="99.9" fill="url(#p10)" stroke="#111" stroke-width="1.3"/>
<rect x="141.6" y="380.5" width="28.6" height="88.8" fill="url(#p20)" stroke="#111" stroke-width="1.3"/>
<rect x="170.2" y="406.5" width="28.1" height="62.8" fill="#111" stroke="#111" stroke-width="1.3"/>
<rect x="171.1" y="409" width="26.5" height="1" fill="#cfcfcf"/>
<rect x="171.1" y="410" width="26.5" height="0.3" fill="#cfcfcf"/>
<rect x="171.1" y="412" width="26.5" height="1" fill="#cfcfcf"/>
<rect x="171.1" y="413" width="26.5" height="0.3" fill="#cfcfcf"/>
<rect x="171.1" y="414" width="26.5" height="1" fill="#cfcfcf"/>
<rect x="171.1" y="415" width="26.5" height="0.3" fill="#cfcfcf"/>
<rect x="171.1" y="417" width="26.5" height="1" fill="#cfcfcf"/>
<rect x="171.1" y="418" width="26.5" height="0.3" fill="#cfcfcf"/>
<rect x="171.1" y="420" width="26.5" height="1" fill="#cfcfcf"/>
<rect x="171.1" y="421" width="26.5" height="0.3" fill="#cfcfcf"/>
<rect x="171.1" y="423" width="26.5" height="1" fill="#cfcfcf"/>
<rect x="171.1" y="424" width="26.5" height="0.3" fill="#cfcfcf"/>
<rect x="171.1" y="425" width="26.5" height="1" fill="#cfcfcf"/>
<rect x="171.1" y="426" width="26.5" height="0.3" fill="#cfcfcf"/>
<rect x="171.1" y="428" width="26.5" height="1" fill="#cfcfcf"/>
<rect x="171.1" y="429" width="26.5" height="0.3" fill="#cfcfcf"/>
<rect x="171.1" y="431" width="26.5" height="1" fill="#cfcfcf"/>
<rect x="171.1" y="432" width="26.5" height="0.3" fill="#cfcfcf"/>
<rect x="171.1" y="434" width="26.5" height="1" fill="#cfcfcf"/>
<rect x="171.1" y="435" width="26.5" height="0.3" fill="#cfcfcf"/>
<rect x="171.1" y="436" width="26.5" height="1" fill="#cfcfcf"/>
<rect x="171.1" y="437" width="26.5" height="0.3" fill="#cfcfcf"/>
<rect x="171.1" y="439" width="26.5" height="1" fill="#cfcfcf"/>
<rect x="171.1" y="440" width="26.5" height="0.3" fill="#cfcfcf"/>
<rect x="171.1" y="442" width="26.5" height="1" fill="#cfcfcf"/>
<rect x="171.1" y="443" width="26.5" height="0.3" fill="#cfcfcf"/>
<rect x="171.1" y="445" width="26.5" height="1" fill="#cfcfcf"/>
<rect x="171.1" y="446" width="26.5" height="0.3" fill="#cfcfcf"/>
<rect x="171.1" y="447" width="26.5" height="1" fill="#cfcfcf"/>
<rect x="171.1" y="448" width="26.5" height="0.3" fill="#cfcfcf"/>
<rect x="171.1" y="450" width="26.5" height="1" fill="#cfcfcf"/>
<rect x="171.1" y="451" width="26.5" height="0.3" fill="#cfcfcf"/>
<rect x="171.1" y="453" width="26.5" height="1" fill="#cfcfcf"/>
<rect x="171.1" y="454" width="26.5" height="0.3" fill="#cfcfcf"/>
<rect x="171.1" y="456" width="26.5" height="1" fill="#cfcfcf"/>
<rect x="171.1" y="457" width="26.5" height="0.3" fill="#cfcfcf"/>
<rect x="171.1" y="458" width="26.5" height="1" fill="#cfcfcf"/>
<rect x="171.1" y="459" width="26.5" height="0.3" fill="#cfcfcf"/>
<rect x="171.1" y="461" width="26.5" height="1" fill="#cfcfcf"/>
<rect x="171.1" y="462" width="26.5" height="0.3" fill="#cfcfcf"/>
<rect x="171.1" y="464" width="26.5" height="1" fill="#cfcfcf"/>
<rect x="171.1" y="465" width="26.5" height="0.3" fill="#cfcfcf"/>
<rect x="171.1" y="467" width="26.5" height="1" fill="#cfcfcf"/>
<rect x="171.1" y="468" width="26.5" height="0.3" fill="#cfcfcf"/>
<rect x="198.3" y="397.4" width="28.3" height="71.9" fill="#111" stroke="#111" stroke-width="1.3"/>
<rect x="201" y="398.3" width="1" height="70.3" fill="#d6d6d6"/>
<rect x="202" y="398.3" width="0.3" height="70.3" fill="#d6d6d6"/>
<rect x="205" y="398.3" width="1" height="70.3" fill="#d6d6d6"/>
<rect x="206" y="398.3" width="0.3" height="70.3" fill="#d6d6d6"/>
<rect x="208" y="398.3" width="1" height="70.3" fill="#d6d6d6"/>
<rect x="209" y="398.3" width="0.3" height="70.3" fill="#d6d6d6"/>
<rect x="212" y="398.3" width="1" height="70.3" fill="#d6d6d6"/>
<rect x="213" y="398.3" width="0.3" height="70.3" fill="#d6d6d6"/>
<rect x="215" y="398.3" width="1" height="70.3" fill="#d6d6d6"/>
<rect x="216" y="398.3" width="0.3" height="70.3" fill="#d6d6d6"/>
<rect x="219" y="398.3" width="1" height="70.3" fill="#d6d6d6"/>
<rect x="220" y="398.3" width="0.3" height="70.3" fill="#d6d6d6"/>
<rect x="222" y="398.3" width="1" height="70.3" fill="#d6d6d6"/>
<rect x="223" y="398.3" width="0.3" height="70.3" fill="#d6d6d6"/>
<rect x="226.6" y="381.4" width="29.1" height="87.9" fill="url(#p50)" stroke="#111" stroke-width="1.3"/>
<rect x="255.7" y="407.3" width="28.6" height="61.9" fill="url(#p60)" stroke="#111" stroke-width="1.3"/>
<path d="M126.9,365.0 V373.3 M119.1,365.0 H134.8 M119.1,373.3 H134.8" stroke="#111" stroke-width="1.7" fill="none"/>
<path d="M155.9,377.9 V382.3 M148.1,377.9 H163.7 M148.1,382.3 H163.7" stroke="#111" stroke-width="1.7" fill="none"/>
<path d="M176.8,405.9 H191.8" stroke="#111" stroke-width="0.9" fill="none"/>
<path d="M212.4,382.4 V412.6 M204.6,382.4 H220.2 M204.6,412.6 H220.2" stroke="#111" stroke-width="2.1" fill="none"/>
<path d="M241.1,375.3 V387.6 M233.3,375.3 H248.9 M233.3,387.6 H248.9" stroke="#111" stroke-width="1.7" fill="none"/>
<path d="M270.0,404.0 V410.5 M262.2,404.0 H277.8 M262.2,410.5 H277.8" stroke="#111" stroke-width="1.7" fill="none"/>
<text x="126.4" y="366.1" font-size="15" text-anchor="middle" style="font-weight:normal" fill="#444">*</text>
<text x="155.3" y="378.6" font-size="15" text-anchor="middle" style="font-weight:normal" fill="#444">*</text>
<text x="241.1" y="376.6" font-size="15" text-anchor="middle" style="font-weight:normal" fill="#444">*</text>
<path d="M98.6,335.1 V469.25 H298.6" fill="none" stroke="#111" stroke-width="1.5"/>
<path d="M93.6,469.2 H98.6" stroke="#111" stroke-width="1.5"/>
<text x="92.6" y="473.6" font-size="12.2" text-anchor="end">0</text>
<path d="M93.6,435.9 H98.6" stroke="#111" stroke-width="1.5"/>
<text x="92.6" y="440.2" font-size="12.2" text-anchor="end">20</text>
<path d="M93.6,402.6 H98.6" stroke="#111" stroke-width="1.5"/>
<text x="92.6" y="406.9" font-size="12.2" text-anchor="end">40</text>
<path d="M93.6,369.2 H98.6" stroke="#111" stroke-width="1.5"/>
<text x="92.6" y="373.5" font-size="12.2" text-anchor="end">60</text>
<path d="M93.6,335.9 H98.6" stroke="#111" stroke-width="1.5"/>
<text x="92.6" y="340.2" font-size="12.2" text-anchor="end">80</text>
<path d="M198.3,469.25 V472.9" stroke="#111" stroke-width="1.5"/>
<text transform="translate(61.8,398.0) rotate(-90)" font-size="14.3" text-anchor="middle">Scratch Closure (%)</text>
<text x="195.9" y="490.7" font-size="16.3" text-anchor="middle">0-24 h</text>
<rect x="288.1" y="305.55" width="14.6" height="5.2" fill="url(#p10)" stroke="#111" stroke-width="1.3"/>
<text x="310.6" y="311.1" font-size="9.25">10%</text>
<rect x="288.1" y="320.87" width="14.6" height="5.2" fill="url(#p20L)" stroke="#111" stroke-width="1.3"/>
<text x="310.6" y="326.5" font-size="9.25">20%</text>
<rect x="288.1" y="336.19" width="14.6" height="5.2" fill="#111" stroke="#111" stroke-width="1.3"/>
<rect x="288.8" y="338.24" width="13.2" height="1.1" fill="#a0a0a0"/>
<text x="310.6" y="341.8" font-size="9.25">30%</text>
<rect x="288.1" y="351.51" width="14.6" height="5.2" fill="#111" stroke="#111" stroke-width="1.3"/>
<rect x="292.25" y="352.21" width="1.1" height="3.8" fill="#d0d0d0"/>
<rect x="295.85" y="352.21" width="1.1" height="3.8" fill="#d0d0d0"/>
<rect x="299.35" y="352.21" width="1.1" height="3.8" fill="#d0d0d0"/>
<text x="310.6" y="357.1" font-size="9.25">40%</text>
<rect x="288.1" y="366.83" width="14.6" height="5.2" fill="url(#p50)" stroke="#111" stroke-width="1.3"/>
<text x="310.6" y="372.4" font-size="9.25">50%</text>
<rect x="288.1" y="382.15" width="14.6" height="5.2" fill="url(#p60)" stroke="#111" stroke-width="1.3"/>
<text x="310.6" y="387.8" font-size="9.25">Control</text>
</g>
</svg>
</body></html>
